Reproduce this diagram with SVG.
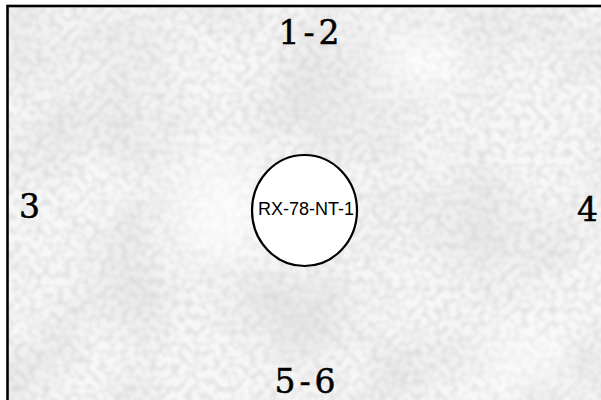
<svg xmlns="http://www.w3.org/2000/svg" width="601" height="400" viewBox="0 0 601 400">
  <defs>
    <filter id="fine" x="0" y="0" width="100%" height="100%" filterUnits="objectBoundingBox">
      <feTurbulence type="fractalNoise" baseFrequency="0.14" numOctaves="1" seed="7"/>
      <feColorMatrix type="matrix" values="0 0 0 0 0.5  0 0 0 0 0.5  0 0 0 0 0.5  0.8 0 0 0 -0.3"/>
    </filter>
    <filter id="coarse" x="0" y="0" width="100%" height="100%" filterUnits="objectBoundingBox">
      <feTurbulence type="fractalNoise" baseFrequency="0.012" numOctaves="2" seed="11"/>
      <feColorMatrix type="matrix" values="0 0 0 0 0.55  0 0 0 0 0.55  0 0 0 0 0.55  0.6 0 0 0 -0.25"/>
    </filter>
    <filter id="blur" x="-50%" y="-50%" width="200%" height="200%">
      <feGaussianBlur stdDeviation="22"/>
    </filter>
  </defs>
  <style>
    .lbl { font-family: "DejaVu Serif", "Liberation Serif", serif; font-size: 33px; fill: #000; stroke: #000; stroke-width: 0.5; text-anchor: middle; }
    .wide { letter-spacing: 4px; }
    .node-shape { fill: #fff; stroke: #000; stroke-width: 2.2; }
    .node-text { font-family: "Liberation Sans", Arial, sans-serif; font-size: 18px; fill: #000; text-anchor: middle; }
  </style>
  <rect x="0" y="0" width="601" height="400" fill="#fff"/>
  <g id="background">
    <rect x="7.5" y="6" width="600" height="400" fill="#f7f7f7"/>
    <rect x="7.5" y="6" width="600" height="400" filter="url(#coarse)"/>
    <rect x="7.5" y="6" width="600" height="400" filter="url(#fine)"/>
    <g filter="url(#blur)" fill="#d4d4d4" opacity="0.4">
      <ellipse cx="340" cy="95" rx="45" ry="30"/>
      <ellipse cx="480" cy="240" rx="35" ry="40"/>
      <ellipse cx="300" cy="320" rx="45" ry="40"/>
      <ellipse cx="130" cy="290" rx="50" ry="25"/>
      <ellipse cx="120" cy="40" rx="60" ry="20"/>
    </g>
    <g filter="url(#blur)" fill="#ffffff" opacity="0.7">
      <ellipse cx="220" cy="210" rx="40" ry="60"/>
      <ellipse cx="420" cy="60" rx="50" ry="25"/>
      <ellipse cx="520" cy="360" rx="50" ry="25"/>
    </g>
    <rect x="7.5" y="6" width="600" height="400" fill="none" stroke="#000" stroke-width="2.6"/>
  </g>
  <g id="connectors"/>
  <g id="node-rx78">
    <ellipse class="node-shape" cx="304.5" cy="210.5" rx="52.5" ry="55.5"/>
    <text class="node-text" x="306" y="215">RX-78-NT-1</text>
  </g>
  <g id="label-1-2"><text class="lbl wide" x="311" y="44">1-2</text></g>
  <g id="label-3"><text class="lbl" x="29.5" y="218">3</text></g>
  <g id="label-4"><text class="lbl" x="587.5" y="221">4</text></g>
  <g id="label-5-6"><text class="lbl wide" x="307" y="393">5-6</text></g>
</svg>
